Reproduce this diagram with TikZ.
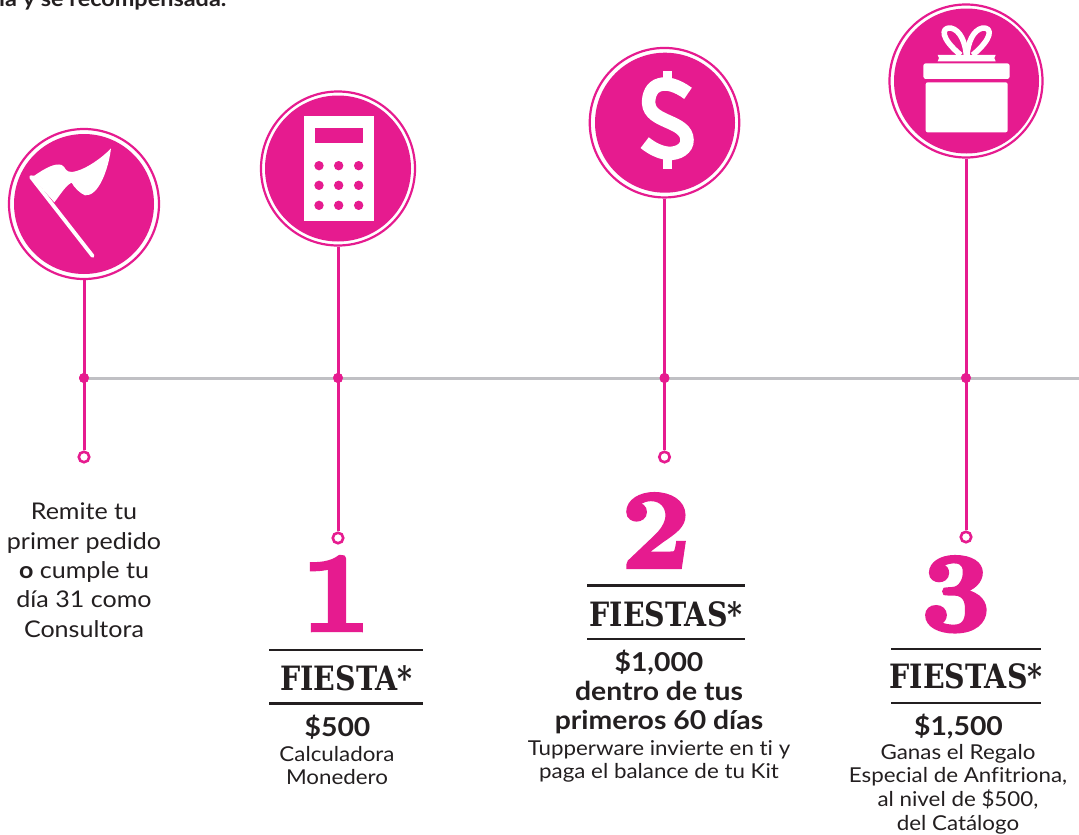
\documentclass[tikz,border=0pt]{standalone}
\usepackage{fontspec}
\setmainfont{Lato}[FakeStretch=1.09,Ligatures=CommonOff]
\newfontfamily\slabfont[FakeStretch=0.85]{DejaVu Serif}
\newfontfamily\numfont[FakeStretch=1.1,BoldFeatures={FakeBold=4}]{Latin Modern Roman}
\definecolor{tpink}{RGB}{230,27,143}
\definecolor{tink}{RGB}{35,31,32}
\definecolor{tgray}{RGB}{192,192,196}
\tikzset{
  ringnode/.style={circle,draw=tpink,line width=2.2pt,fill=white,inner sep=0pt},
  medal/.style={circle,fill=tpink,inner sep=0pt},
  stem/.style={draw=tpink,line width=3pt},
  axis/.style={draw=tgray,line width=3pt},
  tick/.style={circle,fill=tpink,inner sep=0pt,minimum size=10pt},
  endring/.style={circle,draw=tpink,line width=2.6pt,fill=white,inner sep=0pt,minimum size=10.5pt},
  rulez/.style={draw=tink,line width=2.6pt},
  bignum/.style={text=tpink,inner sep=0pt,anchor=base,font=\fontsize{111}{111}\numfont\bfseries},
  head/.style={text=tink,inner sep=0pt,anchor=base,font=\fontsize{33.5}{34}\slabfont\bfseries},
  amount/.style={text=tink,inner sep=0pt,anchor=north,align=center,font=\fontsize{26}{29}\selectfont\bfseries},
  small/.style={text=tink,inner sep=0pt,anchor=north,align=center,font=\fontsize{20.5}{23.6}\selectfont},
  lead/.style={text=tink,inner sep=0pt,anchor=north,align=center,font=\fontsize{23}{29.3}\selectfont},
}
\begin{document}
\begin{tikzpicture}[x=1pt,y=-1pt]
\useasboundingbox (0,0) rectangle (1079,835);
\fill[white] (0,0) rectangle (1079,835);

% top fragment
\node[text=tink,anchor=base west,inner sep=0pt,font=\fontsize{21.5}{22}\selectfont\bfseries] (top) at (-1,6) {ia y se recompensada.};

% rings and discs
\node[ringnode,minimum size=150pt] (r1) at (84,204) {};
\node[ringnode,minimum size=154pt] (r2) at (338,168.5) {};
\node[ringnode,minimum size=149.5pt] (r3) at (664.5,122.7) {};
\node[ringnode,minimum size=153pt] (r4) at (966,81) {};

% axis
\node[tick] (t1) at (84,378) {};
\node[tick] (t2) at (338,378) {};
\node[tick] (t3) at (664.5,378) {};
\node[tick] (t4) at (966,378) {};
\coordinate (axisend) at (1079,378);
\draw[axis] (t1.center) -- (axisend);

% stems
\node[endring] (e1) at (84,457) {};
\node[endring] (e2) at (338,538) {};
\node[endring] (e3) at (664.5,457) {};
\node[endring] (e4) at (966,537) {};
\draw[stem] (r1.south) -- (e1.north);
\draw[stem] (r2.south) -- (e2.north);
\draw[stem] (r3.south) -- (e3.north);
\draw[stem] (r4.south) -- (e4.north);
\node[tick] at (t1) {};
\node[tick] at (t2) {};
\node[tick] at (t3) {};
\node[tick] at (t4) {};

\node[medal,minimum size=140pt] (m1) at (84,204) {};
\node[medal,minimum size=146pt] (m2) at (338,168.5) {};
\node[medal,minimum size=140pt] (m3) at (665,122.7) {};
\node[medal,minimum size=145pt] (m4) at (966.5,81) {};

% flag icon
\begin{scope}[x=1pt/3,y=-1pt/3]
\draw[white,line width=3.8pt,line cap=round] (93,531) -- (278,768);
\fill[white] (92,527) -- (103,527) .. controls (135,505) and (165,488) .. (185,495)
  .. controls (197,500) and (195,517) .. (215,516)
  .. controls (255,512) and (310,470) .. (333,445)
  .. controls (325,510) and (295,590) .. (255,586)
  .. controls (240,580) and (222,562) .. (215,548)
  .. controls (198,555) and (180,585) .. (163,607) -- cycle;
\end{scope}

% calculator icon
\begin{scope}[x=1pt/3,y=-1pt/3]
\fill[white] (912,348) rectangle (1122,663);
\fill[tpink] (945,384) rectangle (1089,429);
\foreach \cx in {957,1016,1076}{\foreach \cy in {497,556,616}{\fill[tpink] (\cx,\cy) circle (4.7pt);}}
\end{scope}

% dollar icon
\begin{scope}[shift={(570,0)},x=1pt/3,y=-1pt/3]
\fill[white] (278,212) rectangle (306,250);
\fill[white] (278,470) rectangle (306,508);
\draw[white,line width=13.5pt] (354,280) .. controls (320,255) and (290,248) .. (270,254)
  .. controls (245,260) and (235,285) .. (236,310)
  .. controls (240,370) and (350,360) .. (351,420)
  .. controls (352,445) and (325,462) .. (295,460)
  .. controls (270,458) and (245,445) .. (224,428);
\end{scope}

% gift icon
\begin{scope}[shift={(570,0)},x=1pt/3,y=-1pt/3]
\fill[white,rounded corners=2pt] (1067,247) rectangle (1313,397);
\fill[white,rounded corners=2.5pt] (1060,190) rectangle (1319,237);
\fill[white] (1103,165) -- (1277,165) -- (1273,174) -- (1277,184) -- (1103,184) -- (1107,174) -- cycle;
\draw[white,line width=5.5pt,line join=round] (1172,165) .. controls (1112,115) and (1112,82) .. (1142,84) .. controls (1172,90) and (1186,130) .. (1189,165);
\draw[white,line width=5.5pt,line join=round] (1208,165) .. controls (1268,115) and (1268,82) .. (1238,84) .. controls (1208,90) and (1194,130) .. (1191,165);
\end{scope}

% lead text
\node[lead] (lead) at (84,503) {Remite tu\\primer pedido\\\textbf{o} cumple tu\\día 31 como\\Consultora};

% column 1
\node[bignum] (n1) at (336,630) {1};
\coordinate (a1) at (269,650); \coordinate (b1) at (423,650);
\coordinate (c1) at (269,703.7); \coordinate (d1) at (423,703.7);
\draw[rulez] (a1) -- (b1); \draw[rulez] (c1) -- (d1);
\node[head] (h1) at (346.5,690.7) {FIESTA*};
\node[amount] (v1) at (337.5,715) {\$500};
\node[small] (s1) at (337,746) {Calculadora\\Monedero};

% column 2
\node[bignum] (n2) at (656,567) {2};
\coordinate (a2) at (587,585.7); \coordinate (b2) at (745,585.7);
\coordinate (c2) at (587,639); \coordinate (d2) at (745,639);
\draw[rulez] (a2) -- (b2); \draw[rulez] (c2) -- (d2);
\node[head] (h2) at (666,626) {FIESTAS*};
\node[amount] (v2) at (659,650) {\$1,000\\dentro de tus\\primeros 60 días};
\node[small] (s2) at (659,740) {Tupperware invierte en ti y\\paga el balance de tu Kit};

% column 3
\node[bignum] (n3) at (956,630) {3};
\coordinate (a3) at (891,649); \coordinate (b3) at (1041,649);
\coordinate (c3) at (891,703); \coordinate (d3) at (1041,703);
\draw[rulez] (a3) -- (b3); \draw[rulez] (c3) -- (d3);
\node[head] (h3) at (966,688) {FIESTAS*};
\node[amount] (v3) at (958.5,714) {\$1,500};
\node[small] (s3) at (958,744) {Ganas el Regalo\\Especial de Anfitriona,\\al nivel de \$500,\\del Catálogo};
\end{tikzpicture}
\end{document}
